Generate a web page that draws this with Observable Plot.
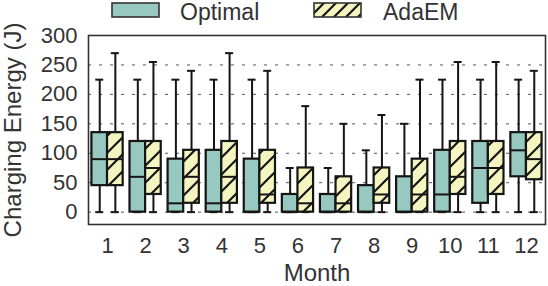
<!DOCTYPE html>
<html><head><meta charset="utf-8">
<script src="https://cdn.jsdelivr.net/npm/d3@7"></script>
<script src="https://cdn.jsdelivr.net/npm/@observablehq/plot@0.6"></script>
<style>
body{margin:0;background:#fff;font-family:"Liberation Sans",Arial,sans-serif;color:#333;}
#wrap{position:relative;width:548px;height:286px;overflow:hidden;background:#fff}
#legend{position:relative;height:22px;}
.sw{position:absolute;top:2px;}
.lt{position:absolute;top:0px;font-size:23px;line-height:24px;white-space:nowrap;}
#chart svg{display:block}
</style></head><body>
<div id="wrap"><div id="legend"></div><div id="chart"></div></div>
<script>
// ---- data ----
const months = [1,2,3,4,5,6,7,8,9,10,11,12];
const seriesNames = ["Optimal", "AdaEM"];
const optMin = [0,0,0,0,0,0,0,0,0,0,0,0];
const optQ1  = [45,0,0,0,0,0,0,0,0,0,15,60];
const optMed = [90,60,15,15,0,0,0,0,0,30,75,105];
const optQ3  = [135,120,90,105,90,30,30,45,60,105,120,135];
const optMax = [225,225,225,225,225,75,75,105,150,225,225,225];
const adaMin = [0,0,0,0,0,0,0,0,0,0,0,0];
const adaQ1  = [45,30,15,15,15,0,0,15,0,30,30,55];
const adaMed = [90,75,60,60,30,15,15,30,30,60,75,90];
const adaQ3  = [135,120,105,120,105,75,60,75,90,120,120,135];
const adaMax = [270,255,240,270,240,180,150,165,225,255,255,240];
const yTicks = [0,50,100,150,200,250,300];
const gridTicks = [0,50,100,150,200,250];
const xTitle = "Month";
const yTitle = "Charging Energy (J)";

// ---- style ----
const optColor = "#97c9c1";
const adaColor = "#f5f5c1";
const ink = "#151515";
const W = 0.41;      // box width in month units
const CAP = 0.105;   // half cap width in month units

const rows = [];
months.forEach((m, i) => {
  rows.push({month: m, series: "Optimal", c: m - W/2, x1: m - W, x2: m,
    min: optMin[i], q1: optQ1[i], med: optMed[i], q3: optQ3[i], max: optMax[i]});
  rows.push({month: m, series: "AdaEM", c: m + W/2, x1: m, x2: m + W,
    min: adaMin[i], q1: adaQ1[i], med: adaMed[i], q3: adaQ3[i], max: adaMax[i]});
});

const hatchPattern = (id, size) => {
  const defs = d3.create("svg:defs");
  const p = defs.append("pattern").attr("id", id).attr("patternUnits", "userSpaceOnUse")
    .attr("width", size).attr("height", size);
  p.append("rect").attr("width", size).attr("height", size).attr("fill", adaColor);
  p.append("path").attr("d", `M0,${size}L${size},0M-3,3L3,-3M${size-3},${size+3}L${size+3},${size-3}`)
    .attr("stroke", ink).attr("stroke-width", 2.2);
  return defs.node();
};

const plot = Plot.plot({
  width: 548, height: 264,
  marginTop: 13, marginBottom: 62, marginLeft: 88, marginRight: 3,
  style: {fontFamily: "'Liberation Sans', Arial, sans-serif", fontSize: "22px", color: "#333", background: "white", overflow: "visible"},
  x: {type: "linear", domain: [0.5, 12.5]},
  y: {domain: [-21, 300]},
  marks: [
    () => hatchPattern("hatchA", 17),
    Plot.ruleY(gridTicks, {stroke: "#555", strokeWidth: 1, strokeDasharray: "3,8"}),
    Plot.axisY({ticks: yTicks, tickSize: 0, tickPadding: 11, label: null, tickFormat: d => String(d)}),
    Plot.axisX({ticks: months, tickSize: 0, tickPadding: 13, label: null, tickFormat: d => String(d)}),
    Plot.ruleX(rows, {x: "c", y1: "min", y2: "max", stroke: ink, strokeWidth: 2}),
    Plot.ruleY(rows, {y: "max", x1: d => d.c - CAP, x2: d => d.c + CAP, stroke: ink, strokeWidth: 2}),
    Plot.ruleY(rows, {y: "min", x1: d => d.c - CAP, x2: d => d.c + CAP, stroke: ink, strokeWidth: 2}),
    Plot.rect(rows, {x1: "x1", x2: "x2", y1: "q1", y2: "q3",
      fill: d => d.series === "Optimal" ? optColor : "url(#hatchA)",
      stroke: ink, strokeWidth: 2.2}),
    Plot.ruleY(rows, {y: "med", x1: "x1", x2: "x2", stroke: ink, strokeWidth: 2}),
    Plot.frame({stroke: "#333", strokeWidth: 1.6}),
    Plot.text([yTitle], {frameAnchor: "left", rotate: -90, dx: -75, textAnchor: "middle", fontSize: 24, fill: "#333"}),
    Plot.text([xTitle], {frameAnchor: "bottom", dy: 56, fontSize: 24, fill: "#333"})
  ]
});
document.getElementById("chart").appendChild(plot);

// ---- legend ----
const legend = document.getElementById("legend");
const legendItems = [
  {name: seriesNames[0], sx: 111, tx: 180},
  {name: seriesNames[1], sx: 313, tx: 383}
];
legendItems.forEach((it, k) => {
  const sw = d3.create("svg").attr("class", "sw").attr("width", 50).attr("height", 17)
    .style("left", it.sx + "px");
  if (k === 1) sw.node().appendChild(hatchPattern("hatchL", 12));
  sw.append("rect").attr("x", 1).attr("y", 1).attr("width", 47).attr("height", 14)
    .attr("fill", k === 0 ? optColor : "url(#hatchL)").attr("stroke", "#333").attr("stroke-width", 1.6);
  legend.appendChild(sw.node());
  const t = document.createElement("div");
  t.className = "lt"; t.style.left = it.tx + "px"; t.textContent = it.name;
  legend.appendChild(t);
});
</script>
</body></html>
